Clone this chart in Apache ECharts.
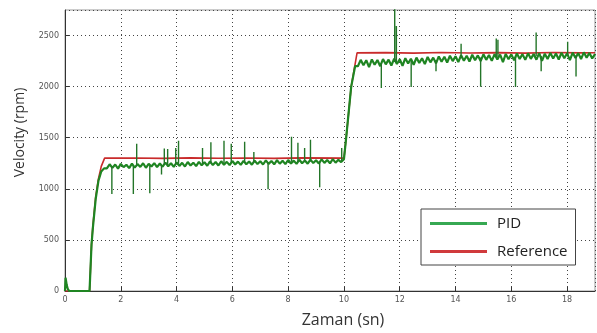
<!DOCTYPE html>
<html><head><meta charset="utf-8">
<script src="https://cdn.jsdelivr.net/npm/echarts@6/dist/echarts.min.js"></script>
<style>html,body{margin:0;padding:0;background:#fff}#c{width:597px;height:333px}</style>
</head><body><div id="c"></div>
<script>
// Reference (setpoint) signal [time s, rpm]
const referenceData = [[0,0],[0.88,0],[0.95,450],[1.0,640],[1.1,920],[1.2,1100],[1.3,1220],[1.42,1300],
 [2.5,1302],[3.5,1298],[4.5,1303],[5.5,1299],[6.5,1302],[7.5,1298],[8.5,1303],[10.0,1300],
 [10.08,1500],[10.26,2000],[10.47,2330],[11.5,2333],[12.5,2328],[13.5,2334],[14.5,2329],[15.5,2333],[16.5,2328],[17.5,2334],[18.5,2330],[19,2331]];

// PID response: start-up and step transitions [time, rpm]
const pidTransitions = [[0,0],[0.02,130],[0.06,60],[0.1,20],[0.15,0],[0.88,0],[0.95,450],[1.0,620],[1.1,900],[1.2,1080],[1.3,1170],[1.4,1200],
 [10.0,1290],[10.08,1500],[10.26,2000],[10.4,2200]];
// PID plateau 1, t = 1.5 .. 9.9 every 0.1 s
const pidPlateau1Start = 1.5;
const pidPlateau1 = [1200,1240,1205,1238,1198,1244,1212,1236,1202,1246,
 1208,1242,1214,1250,1206,1244,1218,1252,1212,1248,
 1216,1256,1220,1250,1214,1258,1224,1254,1218,1262,
 1228,1256,1222,1264,1230,1260,1226,1268,1232,1262,
 1228,1270,1236,1264,1232,1272,1238,1266,1234,1274,
 1240,1268,1236,1276,1242,1270,1238,1278,1244,1272,
 1240,1280,1246,1274,1242,1282,1248,1276,1244,1284,
 1250,1278,1246,1286,1252,1280,1248,1288,1254,1282,
 1250,1290,1256,1284,1262];
// PID plateau 2, t = 10.5 .. 19.0 every 0.1 s
const pidPlateau2Start = 10.5;
const pidPlateau2 = [2200,2262,2210,2258,2192,2266,2214,2260,2200,2270,
 2218,2264,2206,2274,2222,2268,2204,2278,2226,2272,
 2214,2284,2232,2278,2220,2290,2238,2284,2228,2296,
 2244,2292,2236,2302,2250,2298,2240,2308,2254,2302,
 2246,2312,2258,2306,2250,2316,2262,2310,2252,2318,
 2266,2314,2240,2320,2268,2316,2258,2324,2270,2318,
 2262,2326,2272,2320,2264,2328,2252,2322,2270,2330,
 2276,2324,2266,2332,2278,2326,2260,2334,2280,2328,
 2270,2336,2282,2330,2276,2318];
// PID spikes [time, base rpm, peak rpm]
const pidSpikes = [[1.68,1215,950],[2.45,1220,950],[2.57,1222,1440],[3.04,1225,957],[3.46,1230,1140],[3.56,1232,1395],[3.68,1234,1390],
 [3.97,1236,1400],[4.07,1238,1470],[4.93,1244,1400],[5.23,1248,1455],[5.70,1250,1470],[5.96,1252,1440],[6.44,1256,1460],
 [6.77,1258,1360],[7.28,1260,996],[8.12,1264,1510],[8.35,1266,1450],[8.59,1266,1400],[8.80,1268,1480],[9.13,1270,1015],
 [9.92,1272,1400],[11.34,2230,1986],[11.82,2240,2800],[11.88,2240,2593],[12.41,2245,1996],[13.3,2260,2150],[14.2,2278,2420],
 [14.9,2285,2000],[15.46,2290,2470],[15.52,2290,2460],[16.15,2290,1996],[16.89,2300,2530],[17.07,2300,2150],
 [18.02,2305,2440],[18.32,2305,2100]];

const xTicksInterval = 2, yTicksInterval = 500;

function buildPid(){
  const pts = pidTransitions.slice();
  pidPlateau1.forEach((v,i)=>pts.push([+(pidPlateau1Start+0.1*i).toFixed(2), v]));
  pidPlateau2.forEach((v,i)=>pts.push([+(pidPlateau2Start+0.1*i).toFixed(2), v]));
  pts.sort((a,b)=>a[0]-b[0]);
  return pts;
}
function buildSpikes(){
  const pts = [];
  pidSpikes.forEach(s=>{ pts.push([s[0], s[1]]); pts.push([s[0], s[2]]); pts.push([s[0], '-']); });
  return pts;
}

const chart = echarts.init(document.getElementById('c'), null, {renderer:'canvas'});
const axisFont = {color:'#555', fontSize:8, fontFamily:'DejaVu Sans', formatter:v=>String(v)};
const pidColor = '#1f8522';
chart.setOption({
  animation:false,
  grid:{left:65, right:2, top:10, bottom:33, show:true, borderColor:'#999', borderWidth:1},
  xAxis:{type:'value', min:0, max:19, interval:xTicksInterval,
    name:'Zaman (sn)', nameLocation:'middle', nameGap:21,
    nameTextStyle:{fontSize:16, color:'#333', fontFamily:'Open Sans', padding:[0,0,0,26]},
    axisLine:{show:true, onZero:false, lineStyle:{color:'#333'}},
    axisTick:{show:true, inside:true, length:4, lineStyle:{color:'#333'}},
    axisLabel:Object.assign({margin:5, showMaxLabel:false}, axisFont),
    splitLine:{show:true, lineStyle:{color:'#444', type:[1,3], width:1}}},
  yAxis:{type:'value', min:0, max:2750, interval:yTicksInterval,
    name:'Velocity (rpm)', nameLocation:'middle', nameGap:38,
    nameTextStyle:{fontSize:14, color:'#333', fontFamily:'Open Sans', padding:[0,0,0,36]},
    axisLine:{show:true, lineStyle:{color:'#333'}},
    axisTick:{show:true, inside:true, length:4, lineStyle:{color:'#333'}},
    axisLabel:Object.assign({margin:6, showMaxLabel:false}, axisFont),
    splitLine:{show:true, lineStyle:{color:'#444', type:[1,3], width:1}}},
  legend:{orient:'vertical', left:421, top:209,
    padding:[7,8,6,9], itemGap:13, itemWidth:57, itemHeight:3,
    backgroundColor:'#fff', borderColor:'#444', borderWidth:1,
    textStyle:{fontSize:15, color:'#222', fontFamily:'Open Sans', padding:[0,0,0,5]},
    data:[{name:'PID', icon:'rect', itemStyle:{color:'#36a852'}},
          {name:'Reference', icon:'rect', itemStyle:{color:'#d03a3c'}}]},
  series:[
    {name:'Reference', type:'line', data:referenceData, showSymbol:false, symbol:'none', z:2,
     lineStyle:{color:'#c92b2b', width:1.6}, itemStyle:{color:'#c92b2b'}},
    {name:'PID', type:'line', data:buildPid(), showSymbol:false, symbol:'none', z:3, clip:true,
     lineStyle:{color:pidColor, width:2.2}, itemStyle:{color:pidColor}},
    {name:'PID', type:'line', data:buildSpikes(), showSymbol:false, symbol:'none', z:3, clip:true,
     connectNulls:false, lineStyle:{color:'#237528', width:1.4}, itemStyle:{color:pidColor}}
  ]
});
</script></body></html>
